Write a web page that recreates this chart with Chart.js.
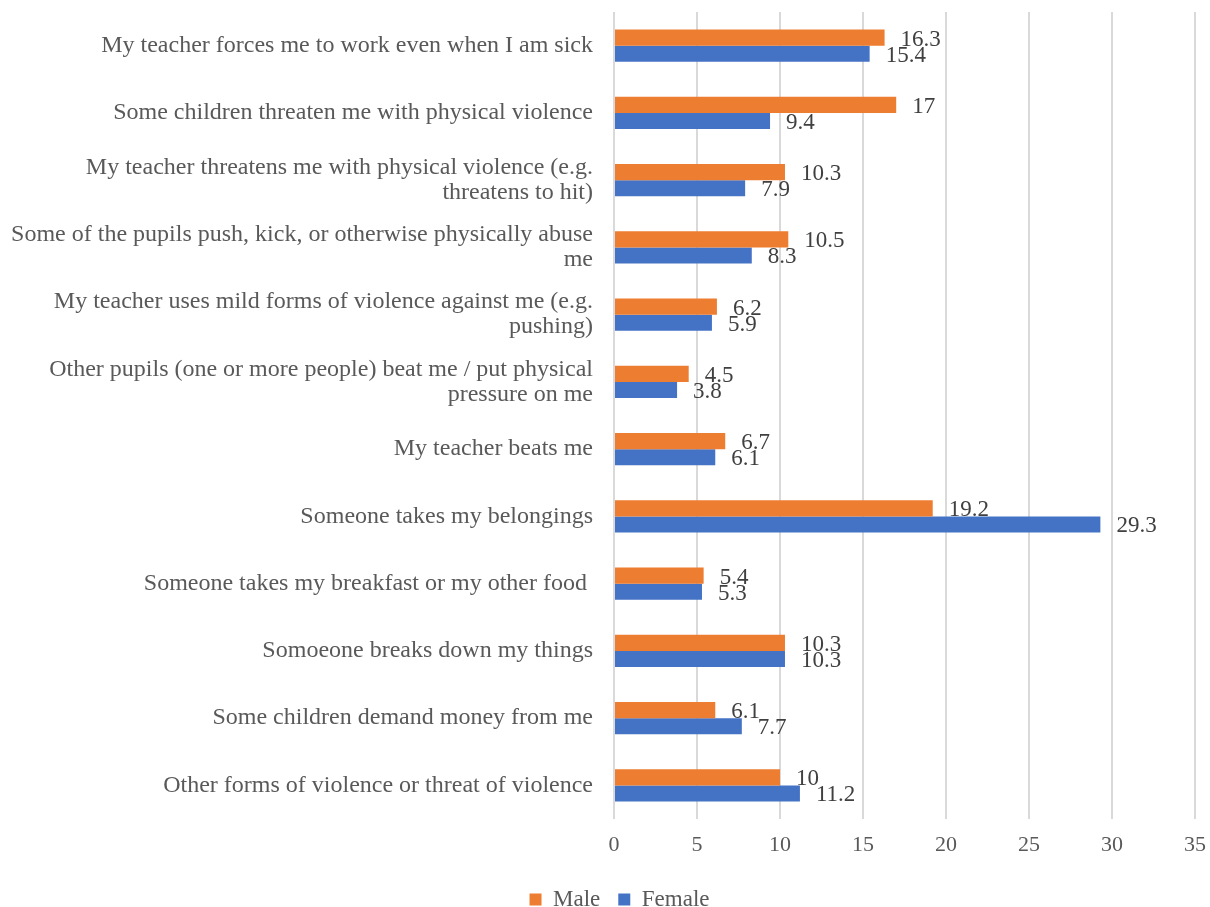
<!DOCTYPE html>
<html>
<head>
<meta charset="utf-8">
<title>Violence at school by gender</title>
<script src="https://cdn.jsdelivr.net/npm/chart.js@4.4.1/dist/chart.umd.min.js"></script>
<style>
  html, body { margin: 0; padding: 0; background: #fff; }
  #wrap { width: 1210px; height: 907px; }
</style>
</head>
<body>
<div id="wrap"><canvas id="chart"></canvas></div>
<script>
const categories = [
    'My teacher forces me to work even when I am sick',
    'Some children threaten me with physical violence',
    ['My teacher threatens me with physical violence (e.g.', 'threatens to hit)'],
    ['Some of the pupils push, kick, or otherwise physically abuse', 'me'],
    ['My teacher uses mild forms of violence against me (e.g.', 'pushing)'],
    ['Other pupils (one or more people) beat me / put physical', 'pressure on me'],
    'My teacher beats me',
    'Someone takes my belongings',
    'Someone takes my breakfast or my other food ',
    'Somoeone breaks down my things',
    'Some children demand money from me',
    'Other forms of violence or threat of violence'
];
const maleValues = [16.3, 17, 10.3, 10.5, 6.2, 4.5, 6.7, 19.2, 5.4, 10.3, 6.1, 10];
const femaleValues = [15.4, 9.4, 7.9, 8.3, 5.9, 3.8, 6.1, 29.3, 5.3, 10.3, 7.7, 11.2];
const xTicks = [0, 5, 10, 15, 20, 25, 30, 35];

const serif = '"Liberation Serif", "Times New Roman", serif';

// value printed just past the end of each bar
const barValues = {
    id: 'barValues',
    afterDatasetsDraw(chart) {
        const ctx = chart.ctx;
        ctx.save();
        ctx.font = '23px ' + serif;
        ctx.fillStyle = '#404040';
        ctx.textAlign = 'left';
        ctx.textBaseline = 'middle';
        chart.data.datasets.forEach((ds, i) => {
            chart.getDatasetMeta(i).data.forEach((bar, j) => {
                ctx.fillText(String(ds.data[j]), bar.x + 16, bar.y + 2);
            });
        });
        ctx.restore();
    }
};

// centre the legend under the plot rather than the whole canvas
const legendShift = {
    id: 'legendShift',
    afterLayout(chart) {
        if (chart.legend) {
            chart.legend.left += 19;
            chart.legend.right += 19;
        }
    }
};

const ctx = document.getElementById('chart').getContext('2d');
new Chart(ctx, {
    type: 'bar',
    data: {
        labels: categories,
        datasets: [{
            label: 'Male',
            data: maleValues,
            backgroundColor: '#ED7D31',
            categoryPercentage: 0.48,
            barPercentage: 1
        }, {
            label: 'Female',
            data: femaleValues,
            backgroundColor: '#4472C4',
            categoryPercentage: 0.48,
            barPercentage: 1
        }]
    },
    options: {
        indexAxis: 'y',
        responsive: true,
        maintainAspectRatio: false,
        animation: false,
        layout: { padding: { top: 12, right: 15, bottom: -14, left: 6 } },
        scales: {
            x: {
                min: 0,
                max: 35,
                afterBuildTicks: (scale) => { scale.ticks = xTicks.map(v => ({ value: v })); },
                grid: { color: '#d9d9d9', lineWidth: 2, drawTicks: false },
                border: { display: false },
                ticks: {
                    padding: 13,
                    color: '#595959',
                    font: { family: serif, size: 22 }
                },
                afterFit: (scale) => {
                    scale.height = 51;
                    scale.paddingLeft = 0;
                    scale.paddingRight = 0;
                }
            },
            y: {
                grid: { display: false, drawTicks: false },
                border: { display: false },
                ticks: {
                    padding: 21,
                    color: '#595959',
                    font: { family: serif, size: 24, lineHeight: 1.04 },
                    autoSkip: false
                },
                afterFit: (scale) => {
                    scale.width = 608;
                    scale.paddingTop = 0;
                    scale.paddingBottom = 0;
                }
            }
        },
        plugins: {
            legend: {
                position: 'bottom',
                labels: {
                    boxWidth: 12,
                    boxHeight: 12,
                    padding: 18,
                    color: '#595959',
                    font: { family: serif, size: 23 }
                }
            },
            tooltip: { enabled: false }
        }
    },
    plugins: [barValues, legendShift]
});
</script>
</body>
</html>
